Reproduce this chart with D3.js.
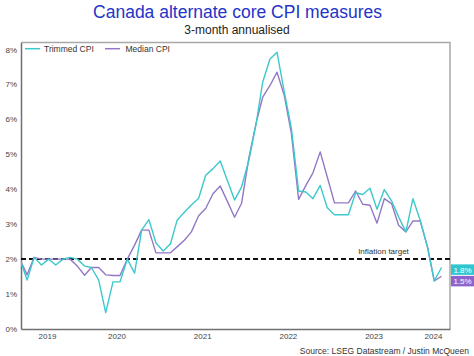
<!DOCTYPE html>
<html><head><meta charset="utf-8">
<script src="https://cdn.jsdelivr.net/npm/d3@7"></script>
<style>html,body{margin:0;padding:0;background:#fff;}svg{display:block;font-family:"Liberation Sans",Arial,sans-serif;}</style>
</head><body>
<svg id="c" width="474" height="356"></svg>
<script>
// Data: monthly, May 2019 .. Apr 2024 (3-month annualised, %)
const startMonth = [2019, 4]; // year, zero-based month (May)
const trimmedCPI = [2.0,1.4,2.05,1.83,2.0,1.83,2.0,2.05,2.0,1.8,1.76,1.4,0.47,1.35,1.35,2.0,1.6,2.83,3.13,2.46,
  2.23,2.44,3.11,3.34,3.55,3.74,4.4,4.59,4.81,4.26,3.69,4.07,4.83,5.88,7.07,7.73,7.92,6.78,5.75,3.95,
  3.92,3.73,4.11,3.47,3.27,3.27,3.27,3.9,3.85,4.03,3.43,3.99,3.67,3.21,2.78,3.73,3.11,2.35,1.38,1.76];
const medianCPI = [2.0,1.55,2.05,2.0,2.0,2.0,2.0,2.0,1.8,1.54,1.76,1.76,1.55,1.53,1.53,2.0,2.4,2.83,2.83,2.18,
  2.18,2.18,2.35,2.54,2.78,3.24,3.45,3.87,4.09,3.66,3.2,3.6,4.9,5.9,6.64,6.97,7.35,6.68,5.6,3.71,
  4.11,4.47,5.07,4.35,3.61,3.61,3.61,3.95,3.57,3.54,3.03,3.73,3.59,2.97,2.78,3.09,3.09,2.35,1.38,1.51];
const seriesNames = ["Trimmed CPI", "Median CPI"];
const seriesColors = ["#3cc9cc", "#9378c6"];
const labelColors = ["#2fc6cf", "#8f63cc"];
const yTicks = [0,1,2,3,4,5,6,7,8];
const yearLabels = [2019, 2020, 2021, 2022, 2023, 2024];
const targetValue = 2;

const dates = trimmedCPI.map((_, i) => new Date(startMonth[0], startMonth[1] + i, 15));

const svg = d3.select("#c");
const L = 21, R = 450, T = 42.5, B = 329;

const x = d3.scaleTime().domain([new Date(2019,4,20), new Date(2024,4,21)]).range([L, R]);
const y = d3.scaleLinear().domain([0, 8.2]).range([B, T]);

// Title
svg.append("text").attr("x", 237.5).attr("y", 17.5).attr("text-anchor", "middle")
  .attr("font-size", 17.5).attr("fill", "#2433c8").text("Canada alternate core CPI measures");
svg.append("text").attr("x", 237).attr("y", 34).attr("text-anchor", "middle")
  .attr("font-size", 12).attr("fill", "#222").text("3-month annualised");

// Frame (top/right)
svg.append("path").attr("d", `M${L},${T}H${R}V${B}`).attr("fill", "none")
  .attr("stroke", "#a8a8a8").attr("stroke-width", 1.5);

// Y axis
const yAxis = d3.axisLeft(y).tickValues(yTicks).tickSize(0).tickPadding(4)
  .tickFormat(d => d + "%");
const gy = svg.append("g").attr("transform", `translate(${L},0)`).call(yAxis);
gy.select(".domain").attr("stroke", "#707070").attr("stroke-width", 1.5);
gy.selectAll("text").attr("font-size", 8).attr("fill", "#444").attr("font-family", "Liberation Sans, Arial, sans-serif");

// X axis (labels centered in visible part of each year)
const gx = svg.append("g").attr("transform", `translate(0,${B})`)
  .call(d3.axisBottom(x).tickValues([]).tickSize(0));
gx.select(".domain").attr("stroke", "#707070").attr("stroke-width", 1.5);
svg.append("g").selectAll("text").data(yearLabels).join("text")
  .attr("x", d => {
    const a = Math.max(L, x(new Date(d,0,1))), b = Math.min(R, x(new Date(d+1,0,1)));
    return (a + b) / 2;
  })
  .attr("y", 339).attr("text-anchor", "middle").attr("font-size", 8).attr("fill", "#444")
  .text(d => d);

// Clip
svg.append("clipPath").attr("id", "clip").append("rect")
  .attr("x", L).attr("y", T).attr("width", R - L).attr("height", B - T);

// Target line
svg.append("line").attr("x1", L).attr("x2", R).attr("y1", y(targetValue)).attr("y2", y(targetValue))
  .attr("stroke", "#111").attr("stroke-width", 2).attr("stroke-dasharray", "5,3");
svg.append("text").attr("x", 383.5).attr("y", 253.5).attr("text-anchor", "middle")
  .attr("font-size", 8).attr("fill", "#333").text("Inflation target");

// Lines
const line = d3.line().x((d, i) => x(dates[i])).y(d => y(d));
const allSeries = [trimmedCPI, medianCPI];
[1, 0].forEach(k => {
  svg.append("path").datum(allSeries[k]).attr("clip-path", "url(#clip)")
    .attr("fill", "none").attr("stroke", seriesColors[k]).attr("stroke-width", 1.4)
    .attr("stroke-linejoin", "round").attr("d", line);
});

// Legend
const leg = [[25, 40, 44], [105, 120, 125.5]];
seriesNames.forEach((n, k) => {
  svg.append("line").attr("x1", leg[k][0]).attr("x2", leg[k][1]).attr("y1", 48.7).attr("y2", 48.7)
    .attr("stroke", seriesColors[k]).attr("stroke-width", 1.5);
  svg.append("text").attr("x", leg[k][2]).attr("y", 51.7).attr("font-size", 8.5).attr("fill", "#333").text(n);
});

// End labels
const last = allSeries.map(s => s[s.length - 1]);
let ys = last.map(v => y(v) + 1.5);
const h = 10.5;
if (ys[1] - ys[0] < h + 1) { const m = (ys[0] + ys[1]) / 2 + 2; ys = [m - (h + 1) / 2, m + (h + 1) / 2]; }
last.forEach((v, k) => {
  svg.append("rect").attr("x", 451).attr("y", ys[k] - h / 2).attr("width", 23).attr("height", h)
    .attr("fill", labelColors[k]);
  svg.append("text").attr("x", 462.5).attr("y", ys[k] + 3).attr("text-anchor", "middle")
    .attr("font-size", 8).attr("fill", "#fff").text(d3.format(".1f")(v) + "%");
});

// Source
svg.append("text").attr("x", 469).attr("y", 354).attr("text-anchor", "end")
  .attr("font-size", 8.5).attr("fill", "#333").text("Source: LSEG Datastream / Justin McQueen");
</script>
</body></html>
